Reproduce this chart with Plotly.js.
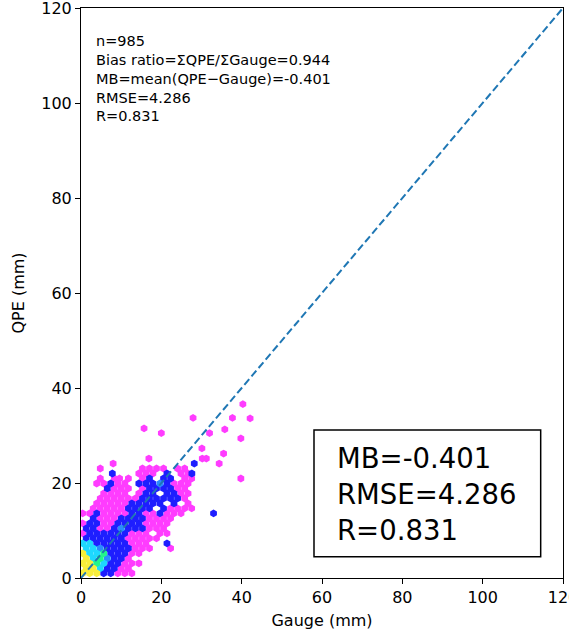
<!DOCTYPE html>
<html>
<head>
<meta charset="utf-8">
<script src="https://cdn.plot.ly/plotly-3.0.1.min.js"></script>
<style>html,body{margin:0;padding:0;background:#fff;}#chart{width:569px;height:633px;}</style>
</head>
<body>
<div id="chart"></div>
<script>
// Hexbin cells: [gauge (mm), QPE (mm)]
const yellowBins = [[0.4,1.0],[2.15,1.0],[3.9,1.0],[1.3,2.05],[3.05,2.05],[0.4,3.1],[2.15,3.1],[1.3,4.15],[0.4,5.2]];
const greenBins = [[3.9,3.1],[4.8,4.15],[5.65,5.2]];
const cyanBins = [[4.8,2.05],[5.65,3.1],[3.05,4.15],[2.15,5.2],[3.9,5.2],[1.3,6.25],[3.05,6.25],[0.4,7.3],[2.15,7.3]];
const lightBlueBins = [[6.55,4.15],[4.8,6.25],[10.05,10.45],[19.65,19.9]];
const blueBins = [
  [5.65,1.0],[7.4,1.0],[6.55,2.05],[8.3,2.05],[7.4,3.1],[9.15,3.1],[8.3,4.15],[10.05,4.15],
  [7.4,5.2],[9.15,5.2],[10.9,5.2],[6.55,6.25],[8.3,6.25],[10.05,6.25],[11.8,6.25],
  [3.9,7.3],[5.65,7.3],[7.4,7.3],[9.15,7.3],[10.9,7.3],[21.4,7.3],
  [1.3,8.35],[3.05,8.35],[4.8,8.35],[6.55,8.35],[8.3,8.35],[10.05,8.35],
  [2.15,9.4],[3.9,9.4],[5.65,9.4],[7.4,9.4],[9.15,9.4],[10.9,9.4],
  [1.3,10.45],[3.05,10.45],[8.3,10.45],[11.8,10.45],[13.55,10.45],[15.3,10.45],
  [2.15,11.5],[3.9,11.5],[9.15,11.5],[10.9,11.5],[12.65,11.5],[14.4,11.5],
  [3.05,12.55],[10.05,12.55],[11.8,12.55],[13.55,12.55],[15.3,12.55],
  [3.9,13.6],[12.65,13.6],[14.4,13.6],[19.65,13.6],[33.0,13.6],
  [11.8,14.65],[13.55,14.65],[15.3,14.65],[17.05,14.65],[20.55,14.65],
  [12.65,15.7],[14.4,15.7],[16.15,15.7],[17.9,15.7],[19.65,15.7],[23.15,15.7],
  [15.3,16.75],[17.05,16.75],[18.8,16.75],[20.55,16.75],[22.3,16.75],[24.05,16.75],
  [16.15,17.8],[17.9,17.8],[21.4,17.8],[23.15,17.8],
  [6.55,18.85],[17.05,18.85],[18.8,18.85],[20.55,18.85],[22.3,18.85],
  [7.4,19.9],[14.4,19.9],[16.15,19.9],[17.9,19.9],[21.4,19.9],
  [17.05,20.95],[20.55,20.95],[22.3,20.95],
  [7.8,22.0],[21.4,22.0],[27.6,22.0],[28.2,24.1]
];
const magentaBins = [
  [9.15,1.0],[10.9,1.0],[12.65,1.0],[10.05,2.05],[11.8,2.05],[10.9,3.1],[12.65,3.1],[14.4,3.1],
  [11.8,4.15],[12.65,5.2],[14.4,5.2],[13.55,6.25],[15.3,6.25],[17.05,6.25],[22.3,6.25],
  [12.65,7.3],[14.4,7.3],[16.15,7.3],[11.8,8.35],[13.55,8.35],[15.3,8.35],[17.05,8.35],[18.8,8.35],
  [0.4,9.4],[12.65,9.4],[14.4,9.4],[16.15,9.4],[19.65,9.4],[21.4,9.4],
  [4.8,10.45],[6.55,10.45],[17.05,10.45],[18.8,10.45],[20.55,10.45],
  [0.4,11.5],[5.65,11.5],[7.4,11.5],[16.15,11.5],[17.9,11.5],[19.65,11.5],[21.4,11.5],
  [4.8,12.55],[6.55,12.55],[8.3,12.55],[17.05,12.55],[18.8,12.55],[20.55,12.55],[22.3,12.55],
  [0.4,13.6],[2.15,13.6],[5.65,13.6],[7.4,13.6],[9.15,13.6],[10.9,13.6],[16.15,13.6],[17.9,13.6],[21.4,13.6],[23.15,13.6],[24.9,13.6],
  [3.05,14.65],[4.8,14.65],[6.55,14.65],[8.3,14.65],[10.05,14.65],[22.3,14.65],[24.05,14.65],[25.8,14.65],[27.55,14.65],
  [3.9,15.7],[5.65,15.7],[7.4,15.7],[9.15,15.7],[10.9,15.7],[26.65,15.7],
  [4.8,16.75],[6.55,16.75],[8.3,16.75],[10.05,16.75],[11.8,16.75],[13.55,16.75],[25.8,16.75],
  [5.65,17.8],[7.4,17.8],[9.15,17.8],[10.9,17.8],[14.4,17.8],[24.9,17.8],[26.65,17.8],
  [8.3,18.85],[10.05,18.85],[11.8,18.85],[15.3,18.85],[24.05,18.85],[25.8,18.85],
  [3.9,19.9],[5.65,19.9],[9.15,19.9],[10.9,19.9],[23.15,19.9],[24.9,19.9],[26.65,19.9],
  [4.8,20.95],[8.3,20.95],[9.6,20.95],[11.8,20.95],[15.3,20.95],[25.8,20.95],[27.55,20.95],[39.8,20.95],
  [14.4,22.0],[16.15,22.0],[17.9,22.0],[24.9,22.0],[26.65,22.0],
  [4.8,23.05],[15.3,23.05],[17.05,23.05],[18.8,23.05],[20.55,23.05],[24.05,23.05],[25.8,23.05],
  [8.0,24.1],[34.4,24.1],[16.9,25.15],[30.2,25.15],[31.2,25.15],
  [35.5,26.2],[30.1,27.3],[39.8,29.4],[32.0,30.5],[20.0,30.5],[35.8,31.3],[15.7,31.5],
  [27.9,33.7],[37.7,33.7],[42.1,33.6],[40.3,36.6]
];
const oneToOneX = [0, 120];
const oneToOneY = [0, 120];
const statsLines = ["n=985", "Bias ratio=ΣQPE/ΣGauge=0.944", "MB=mean(QPE−Gauge)=-0.401", "RMSE=4.286", "R=0.831"];
const boxLines = ["MB=-0.401", "RMSE=4.286", "R=0.831"];
const tickVals = [0, 20, 40, 60, 80, 100, 120];

function hexTrace(bins, color) {
  return {
    type: 'scatter', mode: 'markers',
    x: bins.map(b => b[0]), y: bins.map(b => b[1]),
    marker: {symbol: 'hexagon', size: 7.8, color: color, line: {width: 0}},
    hoverinfo: 'x+y', showlegend: false
  };
}

const traces = [
  hexTrace(magentaBins, '#ff3cff'),
  hexTrace(blueBins, '#1e1eff'),
  hexTrace(lightBlueBins, '#2a8cff'),
  hexTrace(cyanBins, '#1ed8ff'),
  hexTrace(greenBins, '#22f58c'),
  hexTrace(yellowBins, '#f8ee3a'),
  {type: 'scatter', mode: 'lines', x: oneToOneX, y: oneToOneY,
   line: {color: '#1f77b4', width: 2, dash: '7.5px,3.5px'}, showlegend: false, hoverinfo: 'skip'}
];

const axisCommon = {
  range: [0, 120], tickvals: tickVals, ticks: 'outside', ticklen: 5, tickwidth: 1, tickcolor: '#000',
  showline: true, linecolor: '#000', linewidth: 1, mirror: true, showgrid: false, zeroline: false,
  ticklabeloverflow: 'allow',
  tickfont: {family: 'DejaVu Sans', size: 16, color: '#000'}
};

const layout = {
  width: 569, height: 633,
  margin: {l: 81, r: 6, t: 8, b: 55},
  paper_bgcolor: '#fff', plot_bgcolor: '#fff',
  font: {family: 'DejaVu Sans', size: 14, color: '#000'},
  xaxis: Object.assign({}, axisCommon, {title: {text: 'Gauge (mm)', font: {size: 16}, standoff: 8}}),
  yaxis: Object.assign({}, axisCommon, {title: {text: 'QPE (mm)', font: {size: 16}, standoff: 12}}),
  shapes: [{type: 'rect', xref: 'paper', yref: 'paper', x0: 0.4834, x1: 0.9537, y0: 0.0374, y1: 0.2596,
            line: {color: '#000', width: 1.5}, fillcolor: 'rgba(255,255,255,0)'}],
  annotations: [
    {xref: 'paper', yref: 'paper', x: 0.027, y: 0.877, xanchor: 'left', yanchor: 'middle', align: 'left',
     showarrow: false, text: statsLines.join('<br>'), font: {family: 'DejaVu Sans', size: 14.5, color: '#000'}},
    {xref: 'paper', yref: 'paper', x: 0.527, y: 0.148, xanchor: 'left', yanchor: 'middle', align: 'left',
     showarrow: false, text: boxLines.join('<br>'), font: {family: 'DejaVu Sans', size: 27.5, color: '#000'}}
  ]
};

Plotly.newPlot('chart', traces, layout, {displayModeBar: false, staticPlot: true});
</script>
</body>
</html>
